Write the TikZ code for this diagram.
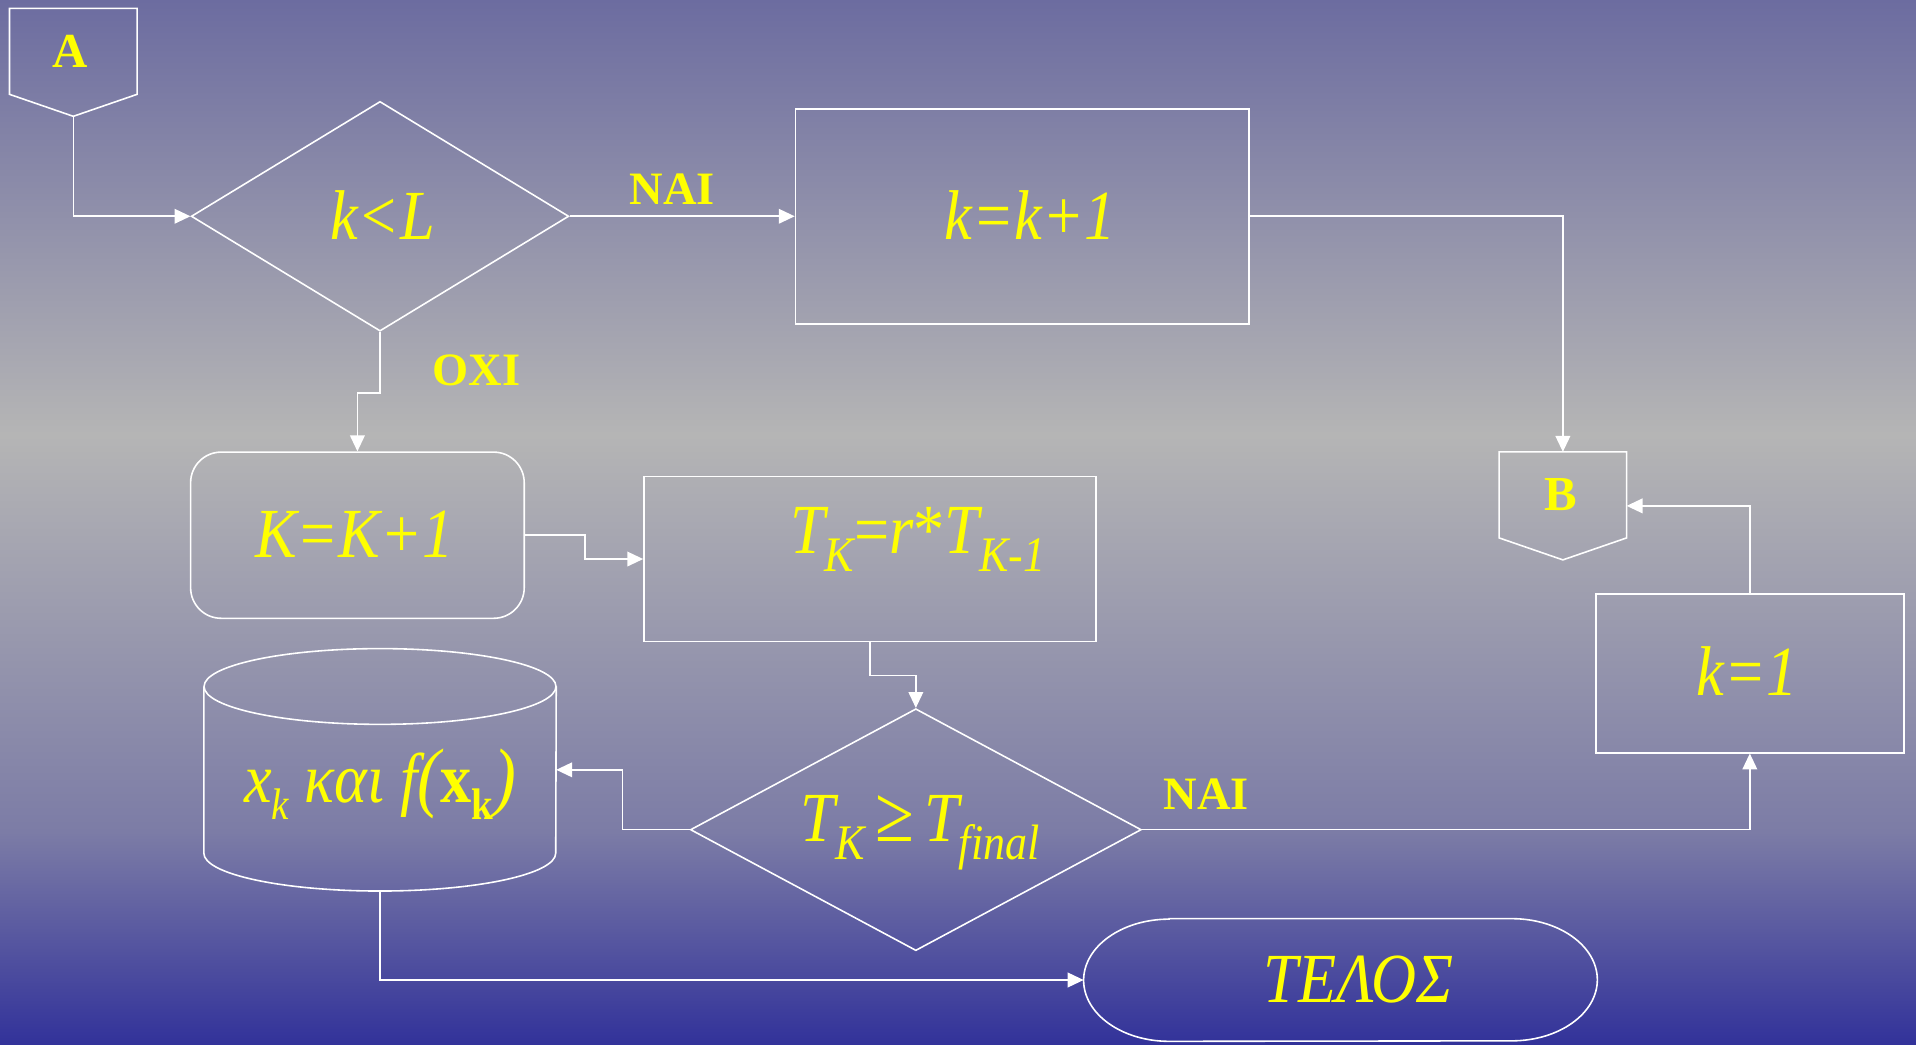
\documentclass[tikz,border=0pt]{standalone}
\usepackage{graphicx}
\usepackage{fontspec}
\setmainfont{Liberation Serif}
\usetikzlibrary{shapes.geometric,arrows.meta,calc}

\definecolor{bgtop}{RGB}{108,108,160}
\definecolor{bgmid}{RGB}{181,181,181}
\definecolor{bglow}{RGB}{124,124,166}
\definecolor{bgbot}{RGB}{50,50,154}
\definecolor{txtyellow}{RGB}{255,255,0}

% backdrop: blue-grey at the top, light grey band, deep blue at the bottom
\pgfdeclareverticalshading{backdrop}{100bp}{%
  color(0bp)=(bgbot); color(25bp)=(bgbot); color(35.2bp)=(bglow);
  color(54.2bp)=(bgmid); color(75bp)=(bgtop); color(100bp)=(bgtop)}

% lowered subscripts and slightly tall lettering
\newcommand\lowsub[1]{\raisebox{-13pt}{\fontsize{36}{40}\selectfont #1}}
\newcommand\smallsub[1]{\raisebox{-12pt}{\fontsize{32}{36}\selectfont #1}}
\newcommand\tall[1]{\scalebox{1}[1.13]{#1}}

\begin{document}
\begin{tikzpicture}[x=1pt,y=1pt,
  shapeline/.style={draw=white, line width=1.3pt},
  flowbox/.style={shapeline, rectangle, inner sep=0pt},
  decision/.style={shapeline, diamond, inner sep=0pt},
  anchorbox/.style={rectangle, inner sep=0pt},
  formula/.style={text=txtyellow, font=\itshape\fontsize{51}{60}\selectfont, inner sep=0pt},
  answer/.style={text=txtyellow, font=\bfseries\fontsize{38}{44}\selectfont, inner sep=0pt},
  connector/.style={text=txtyellow, font=\bfseries\fontsize{40}{46}\selectfont, inner sep=0pt},
  flow/.style={draw=white, line width=1.3pt, -{Triangle[length=13pt,width=12pt]}},
]

\shade[shading=backdrop] (0,0) rectangle (1568,855);
\useasboundingbox (0,0) rectangle (1568,855);

% off-page connector A
\node[anchorbox, minimum width=104pt, minimum height=88pt] (A) at (60,804) {};
\draw[shapeline] (A.north west) -- (A.north east) -- ($(A.south east)+(0,18)$)
  -- (A.south) -- ($(A.south west)+(0,18)$) -- cycle;
\node[connector] (Atxt) at (57,813) {A};

% test k < L
\node[decision, minimum width=309pt, minimum height=188pt] (d1) at (311,678) {};
\node[formula] (d1txt) at (313,679) {\tall{k<L}};

% k = k+1
\node[flowbox, minimum width=371pt, minimum height=176pt] (kk) at (836.5,678) {};
\node[formula] (kktxt) at (843,679) {\tall{k=k+1}};

% off-page connector B
\node[anchorbox, minimum width=104pt, minimum height=88pt] (B) at (1279,441) {};
\draw[shapeline] (B.north west) -- (B.north east) -- ($(B.south east)+(0,18)$)
  -- (B.south) -- ($(B.south west)+(0,18)$) -- cycle;
\node[connector] (Btxt) at (1277,450) {B};

% K = K+1
\node[flowbox, rounded corners=25pt, minimum width=273pt, minimum height=136pt] (K) at (292.5,417) {};
\node[formula] (Ktxt) at (290,418) {\tall{K=K+1}};

% cooling step
\node[flowbox, minimum width=370pt, minimum height=135pt] (T) at (712,397.5) {};
\node[formula, anchor=base] (Ttxt) at (751,402) {\tall{T\lowsub{K}{\upshape =}r{\upshape *}T\lowsub{K-1}}};

% stopping test
\node[decision, minimum width=369pt, minimum height=198pt] (d2) at (749.5,176) {};
\node[formula, anchor=base] (d2txt) at (753,166) {\tall{T\lowsub{K}\,{\upshape\fontsize{58}{60}\selectfont ≥}\,T\lowsub{final}}};

% stored result (cylinder)
\node[anchorbox, minimum width=288pt, minimum height=198pt] (DB) at (311,225) {};
\draw[shapeline] ($(DB.north)+(0,-31)$) ellipse [x radius=144pt, y radius=31pt];
\draw[shapeline] ($(DB.north west)+(0,-31)$) -- ($(DB.south west)+(0,31)$)
  arc[start angle=180, end angle=360, x radius=144pt, y radius=31pt]
  -- ($(DB.north east)+(0,-31)$);
\node[formula, anchor=base] (DBtxt) at (311,198)
  {\tall{x\smallsub{k} και f{\fontsize{56}{60}\selectfont(}{\upshape\bfseries x\smallsub{k}}{\fontsize{56}{60}\selectfont)}}};

% k = 1
\node[flowbox, minimum width=252pt, minimum height=130pt] (k1) at (1432,304) {};
\node[formula] (k1txt) at (1430,306) {\tall{k=1}};

% terminator
\node[anchorbox, minimum width=420pt, minimum height=100pt] (end) at (1097,53) {};
\draw[shapeline] ($(end.north west)+(70,0)$) -- ($(end.north east)+(-70,0)$)
  arc[start angle=90, end angle=-90, x radius=70pt, y radius=50pt]
  -- ($(end.south west)+(70,0)$)
  arc[start angle=270, end angle=90, x radius=70pt, y radius=50pt] -- cycle;
\node[formula] (endtxt) at (1112,53) {\tall{ΤΕΛΟΣ}};

% connectors
\draw[flow] (A.south) |- (d1.west);
\draw[flow] (d1.east) -- (kk.west);
\draw[flow] (kk.east) -| (B.north);
\draw[flow] (d1.south) -- ++(0,-50) -| (K.north);
\draw[flow] (K.east) -- ++(49,0) |- (T.west);
\draw[flow] (T.south) -- ++(0,-27) -| (d2.north);
\draw[flow] (d2.west) -- ++(-55,0) |- (DB.east);
\draw[flow] (d2.east) -| (k1.south);
\draw[flow] (k1.north) |- (B.east);
\draw[flow] (DB.south) |- (end.west);

% branch labels
\node[answer] (yes1) at (550,700) {ΝΑΙ};
\node[answer] (no1) at (390,552) {ΟΧΙ};
\node[answer] (yes2) at (987,205) {ΝΑΙ};

\end{tikzpicture}
\end{document}
